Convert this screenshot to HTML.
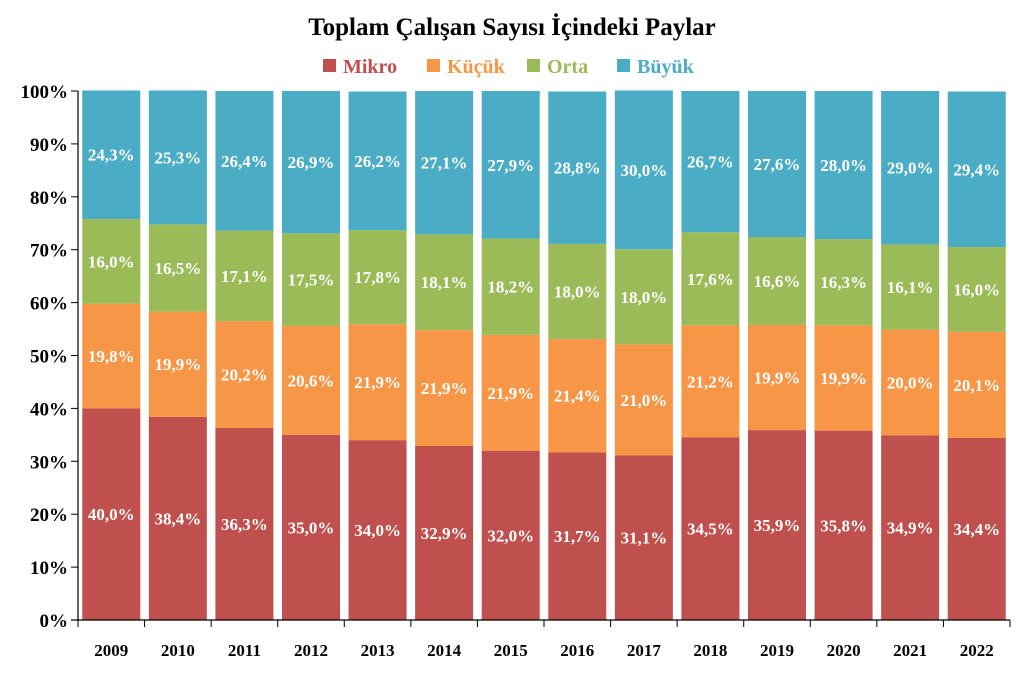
<!DOCTYPE html>
<html><head><meta charset="utf-8"><style>
body{margin:0;background:#fff;}
svg text{font-family:"Liberation Serif",serif;font-weight:bold;}
</style></head><body>
<svg id="chart" width="1024" height="669" xmlns="http://www.w3.org/2000/svg">
<text x="512" y="35" text-anchor="middle" font-size="25" fill="#000">Toplam Çalışan Sayısı İçindeki Paylar</text>
<g id="legend"></g>
<g id="grid"></g>
<g id="bars"></g>
<g id="axes"></g>
</svg>
<script>
const years=["2009","2010","2011","2012","2013","2014","2015","2016","2017","2018","2019","2020","2021","2022"];
const mikro=[40.0,38.4,36.3,35.0,34.0,32.9,32.0,31.7,31.1,34.5,35.9,35.8,34.9,34.4];
const kucuk=[19.8,19.9,20.2,20.6,21.9,21.9,21.9,21.4,21.0,21.2,19.9,19.9,20.0,20.1];
const orta=[16.0,16.5,17.1,17.5,17.8,18.1,18.2,18.0,18.0,17.6,16.6,16.3,16.1,16.0];
const buyuk=[24.3,25.3,26.4,26.9,26.2,27.1,27.9,28.8,30.0,26.7,27.6,28.0,29.0,29.4];
const yTicks=[0,10,20,30,40,50,60,70,80,90,100];
const seriesNames=["Mikro","Küçük","Orta","Büyük"];
const seriesColors=["#C0504D","#F79646","#9BBB59","#4BACC6"];
const seriesData=[mikro,kucuk,orta,buyuk];
const NS="http://www.w3.org/2000/svg";
const X0=78,X1=1010,Y0=620,Y1=91;
const band=(X1-X0)/years.length, bw=58;
const y=v=>Y0-(v/100)*(Y0-Y1);
const xc=i=>X0+band*(i+0.5);
function mk(tag,attrs,parent,txt){const e=document.createElementNS(NS,tag);for(const k in attrs)e.setAttribute(k,attrs[k]);if(txt!==undefined)e.textContent=txt;parent.appendChild(e);return e;}
const bars=document.getElementById('bars'),axes=document.getElementById('axes'),legend=document.getElementById('legend');
years.forEach((yr,i)=>{
  let cum=0;
  seriesData.forEach((s,k)=>{
    const v=s[i];
    const r=mk('rect',{x:xc(i)-bw/2,y:y(cum+v),width:bw,height:y(cum)-y(cum+v),fill:seriesColors[k]},bars);
    
    
    const t=mk('text',{x:xc(i),y:(y(cum)+y(cum+v))/2+6,'text-anchor':'middle','font-size':'17',fill:'#fff'},bars,v.toFixed(1).replace('.',',')+'%');
    
    
    cum+=v;
  });
  const xl=mk('text',{x:xc(i),y:656,'text-anchor':'middle','font-size':'17',fill:'#000'},axes,yr);
  
  
});
for(let i=0;i<=years.length;i++){mk('line',{x1:X0+band*i,x2:X0+band*i,y1:Y0,y2:Y0+7,stroke:'#000','stroke-width':1},axes);}
yTicks.forEach(v=>{
  mk('line',{x1:X0-7,x2:X0,y1:y(v),y2:y(v),stroke:'#000','stroke-width':1},axes);
  const t=mk('text',{x:X0-10,y:y(v)+7,'text-anchor':'end','font-size':'19',fill:'#000'},axes,v+'%');
  
  
});
const ya=mk('line',{x1:X0,x2:X0,y1:Y1,y2:Y0,stroke:'#000','stroke-width':1.2},axes);


const xa=mk('line',{x1:X0-7,x2:X1,y1:Y0,y2:Y0,stroke:'#000','stroke-width':1.2},axes);


const legX=[323,427,527,617];
seriesNames.forEach((n,k)=>{
  const g=mk('g',{},legend);
  
  
  mk('rect',{x:legX[k],y:59,width:13,height:13,fill:seriesColors[k]},g);
  mk('text',{x:legX[k]+20,y:73,'font-size':'20',fill:seriesColors[k]},g,n);
});
</script>
</body></html>
